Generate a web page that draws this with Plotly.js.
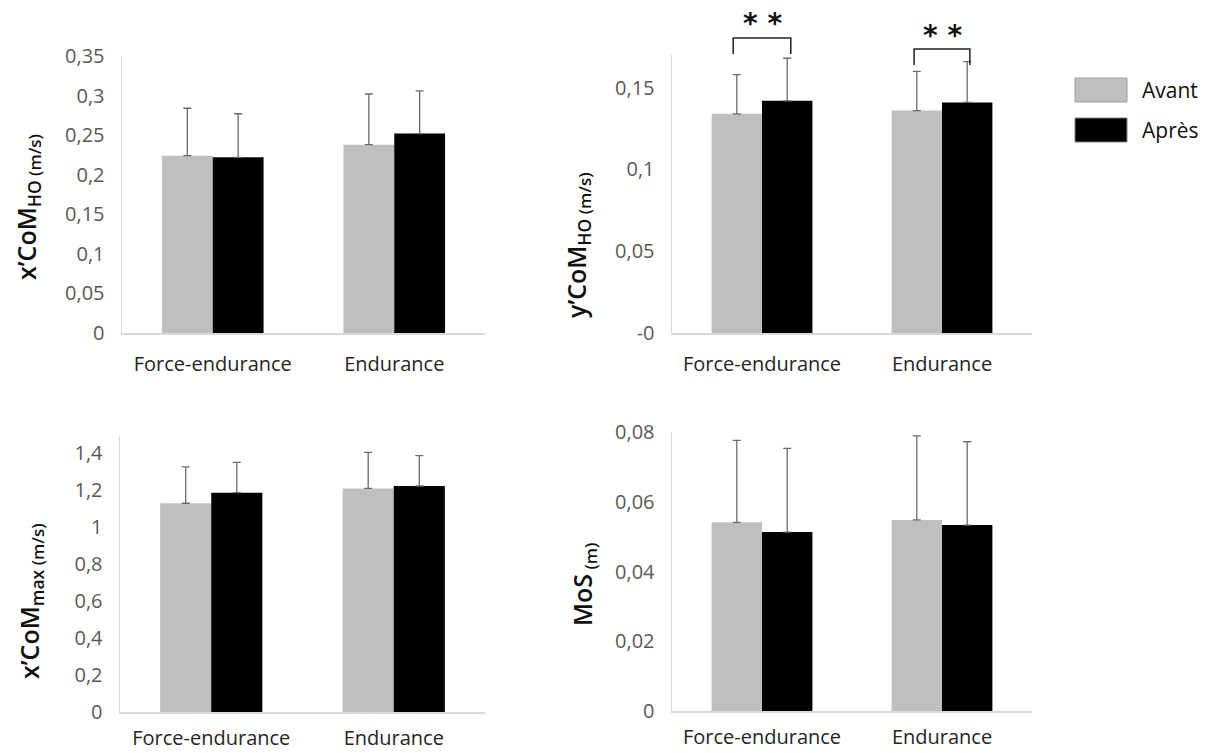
<!DOCTYPE html>
<html>
<head>
<meta charset="utf-8">
<script src="https://cdn.plot.ly/plotly-3.0.1.min.js"></script>
<style>html,body{margin:0;padding:0;background:#fff;}#chart{width:1212px;height:753px;}</style>
</head>
<body>
<div id="chart"></div>
<script>
// ---- data ----
var categories = ["Force-endurance", "Endurance"];
var seriesNames = ["Avant", "Après"];

// Panel 1: x'CoM_HO (m/s)
var p1Avant = [0.224, 0.238];
var p1AvantSD = [0.060, 0.064];
var p1Apres = [0.222, 0.252];
var p1ApresSD = [0.055, 0.054];
var p1TickVals = [0, 0.05, 0.1, 0.15, 0.2, 0.25, 0.3, 0.35];
var p1TickText = ["0", "0,05", "0,1", "0,15", "0,2", "0,25", "0,3", "0,35"];

// Panel 2: y'CoM_HO (m/s)
var p2Avant = [0.134, 0.136];
var p2AvantSD = [0.024, 0.024];
var p2Apres = [0.142, 0.141];
var p2ApresSD = [0.026, 0.025];
var p2TickVals = [0, 0.05, 0.1, 0.15];
var p2TickText = ["-0", "0,05", "0,1", "0,15"];

// Panel 3: x'CoM_max (m/s)
var p3Avant = [1.127, 1.207];
var p3AvantSD = [0.196, 0.195];
var p3Apres = [1.184, 1.220];
var p3ApresSD = [0.164, 0.164];
var p3TickVals = [0, 0.2, 0.4, 0.6, 0.8, 1, 1.2, 1.4];
var p3TickText = ["0", "0,2", "0,4", "0,6", "0,8", "1", "1,2", "1,4"];

// Panel 4: MoS (m)
var p4Avant = [0.0541, 0.0548];
var p4AvantSD = [0.0235, 0.0241];
var p4Apres = [0.0513, 0.0533];
var p4ApresSD = [0.0240, 0.0239];
var p4TickVals = [0, 0.02, 0.04, 0.06, 0.08];
var p4TickText = ["0", "0,02", "0,04", "0,06", "0,08"];

var yTitles = [
  "x’CoM<sub>HO</sub><sub><span style='font-size:17px'> (m/s)</span></sub>",
  "y’CoM<sub>HO</sub><sub><span style='font-size:17px'> (m/s)</span></sub>",
  "x’CoM<sub>max</sub><sub><span style='font-size:17px'> (m/s)</span></sub>",
  "MoS<sub><span style='font-size:17px'> (m)</span></sub>"
];

var sigLabel = "* *";

// ---- styles ----
var colAvant = "#bfbfbf", colApres = "#000000";
var FONT = "'Open Sans', 'Liberation Sans', sans-serif";

function zeros(n){ var a=[]; for(var i=0;i<n;i++) a.push(0); return a; }
function barTrace(name, y, sd, color, xa, ya){
  return {
    type: "bar", name: name, x: categories, y: y,
    xaxis: xa, yaxis: ya,
    marker: {color: color, line: {width: 0}},
    error_y: {type: "data", symmetric: false, array: sd, arrayminus: zeros(sd.length),
              color: "#6b6b6b", thickness: 1.3, width: 4},
    hoverinfo: "y", showlegend: false
  };
}

var data = [
  barTrace(seriesNames[0], p1Avant, p1AvantSD, colAvant, "x", "y"),
  barTrace(seriesNames[1], p1Apres, p1ApresSD, colApres, "x", "y"),
  barTrace(seriesNames[0], p2Avant, p2AvantSD, colAvant, "x2", "y2"),
  barTrace(seriesNames[1], p2Apres, p2ApresSD, colApres, "x2", "y2"),
  barTrace(seriesNames[0], p3Avant, p3AvantSD, colAvant, "x3", "y3"),
  barTrace(seriesNames[1], p3Apres, p3ApresSD, colApres, "x3", "y3"),
  barTrace(seriesNames[0], p4Avant, p4AvantSD, colAvant, "x4", "y4"),
  barTrace(seriesNames[1], p4Apres, p4ApresSD, colApres, "x4", "y4")
];

function xAxis(domain, anchor, standoff){
  return {domain: domain, anchor: anchor, showline: true, linecolor: "#d9d9d9", linewidth: 1.5,
          ticks: "", showgrid: false, zeroline: false, fixedrange: true,
          tickfont: {family: FONT, size: 20, color: "#262626"}, ticklabelstandoff: standoff};
}
function yAxis(domain, anchor, range, tv, tt){
  return {domain: domain, anchor: anchor, range: range, tickmode: "array", tickvals: tv, ticktext: tt,
          showline: true, linecolor: "#d9d9d9", linewidth: 1.5, ticks: "", showgrid: false,
          zeroline: false, fixedrange: true, ticklabelstandoff: 12,
          tickfont: {family: FONT, size: 20, color: "#595959"}};
}

var W = 1212, H = 753;
function px(x){ return x / W; }
function py(y){ return 1 - y / H; }

function yTitle(text, cx, cy){
  return {xref: "paper", yref: "paper", x: px(cx), y: py(cy), xanchor: "center", yanchor: "middle",
          textangle: -90, text: text, showarrow: false,
          font: {family: FONT, size: 25, color: "#111111", weight: 600}};
}

var layout = {
  width: W, height: H, margin: {l: 0, r: 0, t: 0, b: 0},
  paper_bgcolor: "#ffffff", plot_bgcolor: "#ffffff",
  showlegend: false, bargap: 0.44, bargroupgap: 0, barmode: "group",
  xaxis: xAxis([px(122), px(485)], "y", 12),
  yaxis: yAxis([py(333), py(56)], "x", [0, 0.35], p1TickVals, p1TickText),
  xaxis2: xAxis([px(672), px(1032)], "y2", 12),
  yaxis2: yAxis([py(333), py(55)], "x2", [0, 0.17], p2TickVals, p2TickText),
  xaxis3: xAxis([px(120), px(485)], "y3", 7),
  yaxis3: yAxis([py(712), py(436)], "x3", [0, 1.49], p3TickVals, p3TickText),
  xaxis4: xAxis([px(672), px(1032)], "y4", 7),
  yaxis4: yAxis([py(711), py(432)], "x4", [0, 0.08], p4TickVals, p4TickText),
  shapes: [
    // legend swatches
    {type: "rect", xref: "paper", yref: "paper", x0: px(1075), x1: px(1127), y0: py(102), y1: py(78),
     fillcolor: colAvant, line: {color: "#a0a0a0", width: 1}},
    {type: "rect", xref: "paper", yref: "paper", x0: px(1075), x1: px(1127), y0: py(142), y1: py(118),
     fillcolor: colApres, line: {color: "#7f7f7f", width: 1}},
    // significance brackets
    {type: "path", xref: "x2", yref: "paper", line: {color: "#222", width: 1.5},
     path: "M -0.16," + py(54) + " L -0.16," + py(38) + " L 0.16," + py(38) + " L 0.16," + py(54)},
    {type: "path", xref: "x2", yref: "paper", line: {color: "#222", width: 1.5},
     path: "M 0.845," + py(65) + " L 0.845," + py(49) + " L 1.155," + py(49) + " L 1.155," + py(65)}
  ],
  annotations: [
    yTitle(yTitles[0], 28, 207),
    yTitle(yTitles[1], 578, 245),
    yTitle(yTitles[2], 30, 601),
    yTitle(yTitles[3], 583, 585),
    {xref: "paper", yref: "paper", x: px(1140), y: py(90), xanchor: "left", yanchor: "middle",
     text: seriesNames[0], showarrow: false, font: {family: FONT, size: 21, color: "#111"}},
    {xref: "paper", yref: "paper", x: px(1140), y: py(130), xanchor: "left", yanchor: "middle",
     text: seriesNames[1], showarrow: false, font: {family: FONT, size: 21, color: "#111"}},
    {xref: "x2", yref: "paper", x: 0, y: py(24), xanchor: "center", yanchor: "middle",
     text: "<b>" + sigLabel + "</b>", showarrow: false, font: {family: "DejaVu Sans", size: 28, color: "#111"}},
    {xref: "x2", yref: "paper", x: 1, y: py(36), xanchor: "center", yanchor: "middle",
     text: "<b>" + sigLabel + "</b>", showarrow: false, font: {family: "DejaVu Sans", size: 28, color: "#111"}}
  ]
};

Plotly.newPlot("chart", data, layout, {staticPlot: true, displayModeBar: false});
</script>
</body>
</html>
